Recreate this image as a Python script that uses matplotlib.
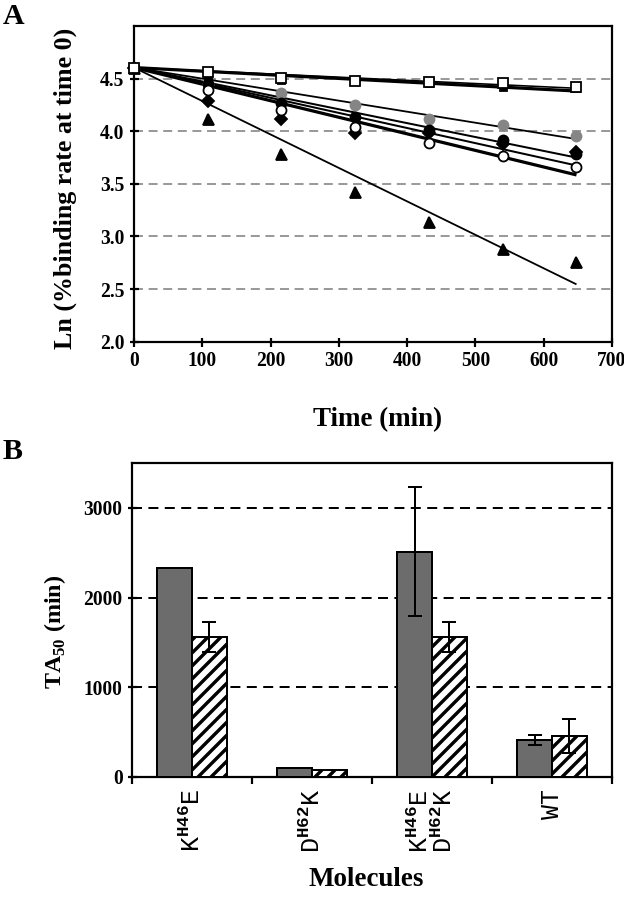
import numpy as np
import matplotlib
matplotlib.use("Agg")
import matplotlib.pyplot as plt

# ---------------- data ----------------
time_min = [0, 108, 216, 324, 432, 540, 648]
open_squares = [4.605, 4.56, 4.51, 4.48, 4.47, 4.46, 4.42]
filled_squares = [4.605, 4.50, 4.49, 4.48, 4.46, 4.42, 4.41]
gray_circles = [4.605, 4.45, 4.36, 4.25, 4.12, 4.06, 3.95]
filled_circles = [4.605, 4.45, 4.27, 4.14, 4.01, 3.92, 3.78]
diamonds = [4.605, 4.29, 4.12, 3.98, 3.98, 3.88, 3.80]
open_circles = [4.605, 4.39, 4.20, 4.04, 3.89, 3.76, 3.66]
triangles = [4.605, 4.12, 3.78, 3.42, 3.14, 2.88, 2.76]

xticks_A = [0, 100, 200, 300, 400, 500, 600, 700]
yticks_A = [2.0, 2.5, 3.0, 3.5, 4.0, 4.5]

molecules = [r"K$^{\mathrm{H46}}$E", r"D$^{\mathrm{H62}}$K",
             "K$^{\\mathrm{H46}}$E\nD$^{\\mathrm{H62}}$K", "WT"]
gray_vals = [2330, 100, 2510, 410]
gray_err = [0, 0, 720, 55]
hatch_vals = [1560, 80, 1560, 455]
hatch_err = [170, 0, 170, 190]
yticks_B = [0, 1000, 2000, 3000]

# ---------------- style ----------------
DPI = 78
def px(n):
    return n * 72.0 / DPI

plt.rcParams['font.family'] = ['Liberation Serif', 'DejaVu Serif']
plt.rcParams['font.weight'] = 'bold'
plt.rcParams['mathtext.fontset'] = 'custom'
plt.rcParams['mathtext.rm'] = 'Liberation Mono'
plt.rcParams['mathtext.bf'] = 'Liberation Serif:bold'
plt.rcParams['hatch.linewidth'] = px(3.4)

fig = plt.figure(figsize=(624 / DPI, 899 / DPI), dpi=DPI)
axA = fig.add_axes([134 / 624, 1 - 341.7 / 899, (612 - 134) / 624, (341.7 - 26) / 899])
axB = fig.add_axes([132 / 624, 1 - 777 / 899, (612 - 132) / 624, (777 - 463) / 899])

spine_w = px(2.2)
tick_fs = px(19.5)
label_fs = px(27)

# ---------------- panel A ----------------
t = np.array(time_min, dtype=float)
series = [
    # values, marker, mfc, mec, ms(px), line width(px)
    (triangles, '^', 'black', 'black', 11, 1.8),
    (gray_circles, 'o', '#858585', '#858585', 10, 1.8),
    (filled_circles, 'o', 'black', 'black', 10, 2.0),
    (diamonds, 'D', 'black', 'black', 8, 2.0),
    (open_circles, 'o', 'white', 'black', 10, 3.2),
    (filled_squares, 's', 'black', 'black', 7, 3.2),
    (open_squares, 's', 'white', 'black', 10, 1.6),
]
for vals, mk, mfc, mec, ms, lw in series:
    y = np.array(vals, dtype=float)
    slope = np.sum(t * (y - y[0])) / np.sum(t ** 2)
    tl = np.array([t[0], t[-1]])
    axA.plot(tl, y[0] + slope * tl, color='black', lw=px(lw), zorder=3,
             solid_capstyle='butt')
for vals, mk, mfc, mec, ms, lw in series:
    axA.plot(t, vals, linestyle='none', marker=mk, markersize=px(ms),
             markerfacecolor=mfc, markeredgecolor=mec,
             markeredgewidth=px(1.8), zorder=4, clip_on=False)

axA.set_xlim(0, 700)
axA.set_ylim(2.0, 5.0)
axA.set_xticks(xticks_A)
axA.set_yticks(yticks_A)
axA.set_yticklabels([f"{v:.1f}" for v in yticks_A])
axA.yaxis.grid(True, color='#9a9a9a', lw=px(2.0), linestyle=(0, (4.5, 2.8)))
axA.set_axisbelow(True)
for s in axA.spines.values():
    s.set_linewidth(spine_w)
axA.tick_params(axis='both', direction='inout', length=px(9), width=spine_w,
                labelsize=tick_fs, pad=px(5))

fig.text(65 / 624, 1 - 188 / 899, "Ln (%binding rate at time 0)", rotation=90,
         ha='center', va='center', fontsize=px(26), fontweight='bold')
fig.text(378 / 624, 1 - 420 / 899, "Time (min)", ha='center', va='center',
         fontsize=label_fs, fontweight='bold')
fig.text(14 / 624, 1 - 16 / 899, "A", ha='center', va='center',
         fontsize=px(30), fontweight='bold')

# ---------------- panel B ----------------
x = np.arange(len(molecules))
bw = 0.29
err_kw = dict(ecolor='black', elinewidth=px(2.0), capsize=px(7), capthick=px(2.0))
axB.bar(x - bw / 2, gray_vals, bw, color='#6c6c6c', edgecolor='black',
        linewidth=px(2.0), zorder=3)
axB.bar(x + bw / 2, hatch_vals, bw, color='white', edgecolor='black',
        hatch='//', linewidth=px(2.0), zorder=3)
ge = np.array(gray_err, dtype=float)
he = np.array(hatch_err, dtype=float)
mg = ge > 0
mh = he > 0
axB.errorbar((x - bw / 2)[mg], np.array(gray_vals)[mg], yerr=ge[mg],
             fmt='none', zorder=4, **err_kw)
axB.errorbar((x + bw / 2)[mh], np.array(hatch_vals)[mh], yerr=he[mh],
             fmt='none', zorder=4, **err_kw)

axB.set_xlim(-0.5, len(molecules) - 0.5)
axB.set_ylim(0, 3500)
axB.set_yticks(yticks_B)
axB.set_yticklabels([str(v) for v in yticks_B])
axB.yaxis.grid(True, color='black', lw=px(2.0), linestyle=(0, (5, 3.2)))
axB.set_axisbelow(True)
axB.set_xticks(np.arange(len(molecules) + 1) - 0.5)
axB.set_xticklabels([])
axB.set_xticks(x, minor=True)
axB.set_xticklabels(molecules, minor=True, rotation=90, va='top', ha='center',
                    fontfamily=['Liberation Mono'], fontweight='normal',
                    fontsize=px(25), linespacing=0.95)
axB.tick_params(axis='x', which='minor', length=0, pad=px(12))
axB.tick_params(axis='x', which='major', direction='out', length=px(7),
                width=spine_w)
axB.tick_params(axis='y', direction='inout', length=px(9), width=spine_w,
                labelsize=tick_fs, pad=px(5))
for s in axB.spines.values():
    s.set_linewidth(spine_w)

fig.text(55 / 624, 1 - 632 / 899, r"TA$_{\mathbf{50}}$ (min)", rotation=90,
         ha='center', va='center', fontsize=px(24), fontweight='bold')
fig.text(366 / 624, 1 - 880 / 899, "Molecules", ha='center', va='center',
         fontsize=label_fs, fontweight='bold')
fig.text(13 / 624, 1 - 452 / 899, "B", ha='center', va='center',
         fontsize=px(30), fontweight='bold')

fig.savefig("out.png", dpi=DPI)
